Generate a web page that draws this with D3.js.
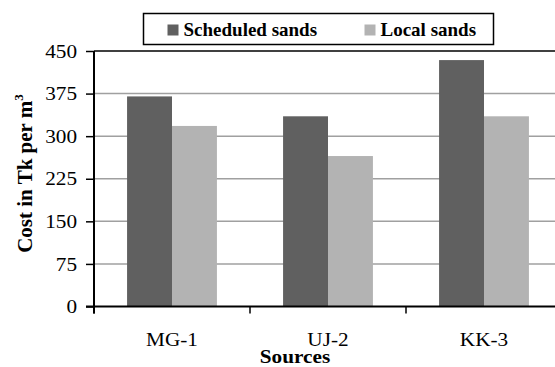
<!DOCTYPE html>
<html>
<head>
<meta charset="utf-8">
<script src="https://cdn.jsdelivr.net/npm/d3@7"></script>
<style>
  html, body { margin: 0; padding: 0; background: #fff; }
  svg { display: block; }
  svg text { font-family: "Liberation Serif", "Times New Roman", serif !important; }
</style>
</head>
<body>
<script>
// Sand cost by source
const categories = ["MG-1", "UJ-2", "KK-3"];
const seriesNames = ["Scheduled sands", "Local sands"];
const scheduledSands = [370, 335, 434];
const localSands = [318, 265, 335];
const yTicks = [0, 75, 150, 225, 300, 375, 450];
const seriesColors = ["#606060", "#b3b3b3"];

const W = 555, H = 367;
const margin = { left: 94, top: 51, bottom: 60.5 };
const plotW = 468;           // three category slots; the last one runs past the right edge
const plotH = H - margin.top - margin.bottom;
const SX = 1.18;             // horizontal widening of the serif labels

const svg = d3.select("body").append("svg").attr("width", W).attr("height", H);

const x = d3.scaleBand().domain(categories).range([0, plotW]).paddingInner(0).paddingOuter(0);
// each pair of bars fills the middle ~58% of its slot
const x1 = d3.scaleBand().domain(seriesNames)
  .range([x.bandwidth() * 0.212, x.bandwidth() * 0.788]).paddingInner(0).paddingOuter(0);
const y = d3.scaleLinear().domain([0, 450]).range([plotH, 0]);

const g = svg.append("g").attr("transform", `translate(${margin.left},${margin.top})`);

// gridlines
g.append("g").selectAll("line").data(yTicks.filter(d => d > 0 && d < 450)).join("line")
  .attr("x1", 0).attr("x2", plotW)
  .attr("y1", d => y(d)).attr("y2", d => y(d))
  .attr("stroke", "#a0a0a0").attr("stroke-width", 1.5);

// top border of the plot area
g.append("line").attr("x1", 0).attr("x2", plotW).attr("y1", y(450)).attr("y2", y(450))
  .attr("stroke", "#000").attr("stroke-width", 1.5);

// bars
const rows = categories.map((c, i) => ({ cat: c, vals: [scheduledSands[i], localSands[i]] }));
g.append("g").selectAll("g").data(rows).join("g")
  .attr("transform", d => `translate(${x(d.cat)},0)`)
  .selectAll("rect").data(d => d.vals.map((v, j) => ({ name: seriesNames[j], v, j })))
  .join("rect")
  .attr("x", d => x1(d.name))
  .attr("width", x1.bandwidth())
  .attr("y", d => y(d.v))
  .attr("height", d => plotH - y(d.v))
  .attr("fill", d => seriesColors[d.j]);

// y axis
const yAxis = g.append("g").call(d3.axisLeft(y).tickValues(yTicks).tickSize(8));
yAxis.select(".domain").attr("stroke", "#000").attr("stroke-width", 2).attr("d", `M0,${plotH + 7}V0`);
yAxis.selectAll(".tick line").attr("stroke", "#000").attr("stroke-width", 1.5);
yAxis.selectAll(".tick text")
  .attr("font-size", 18).attr("fill", "#000")
  .attr("x", -17 / SX).attr("dy", "0.34em")
  .attr("transform", `scale(${SX},1)`);

// x axis
const xAxis = g.append("g").attr("transform", `translate(0,${plotH})`)
  .call(d3.axisBottom(x).tickSize(0));
xAxis.select(".domain").attr("stroke", "#000").attr("stroke-width", 2).attr("d", `M-8,0H${plotW}`);
xAxis.selectAll(".tick text")
  .attr("font-size", 18).attr("fill", "#000")
  .attr("y", 39.5).attr("dy", null)
  .attr("transform", `scale(${SX},1)`);
// category boundary ticks
xAxis.append("g").selectAll("line").data(d3.range(categories.length + 1)).join("line")
  .attr("x1", i => i * x.step()).attr("x2", i => i * x.step())
  .attr("y1", 0).attr("y2", 7)
  .attr("stroke", "#000").attr("stroke-width", 1.5);

// axis titles
svg.append("text")
  .attr("transform", `translate(295,363) scale(${SX},1)`)
  .attr("text-anchor", "middle")
  .attr("font-size", 18).attr("font-weight", "bold").text("Sources");

const yt = svg.append("text")
  .attr("transform", `translate(32,173.5) rotate(-90)`)
  .attr("text-anchor", "middle").attr("font-size", 21).attr("font-weight", "bold");
yt.append("tspan").text("Cost in Tk per m");
yt.append("tspan").attr("font-size", 13).attr("dy", -9).text("3");

// legend
const lg = svg.append("g").attr("transform", "translate(143.5,13.5)");
lg.append("rect").attr("width", 350).attr("height", 31).attr("fill", "#fff")
  .attr("stroke", "#000").attr("stroke-width", 1.5);
const legendX = [24, 221];
seriesNames.forEach((n, i) => {
  lg.append("rect").attr("x", legendX[i]).attr("y", 11).attr("width", 11).attr("height", 11)
    .attr("fill", seriesColors[i]);
  lg.append("text").attr("x", legendX[i] + 16).attr("y", 22.5)
    .attr("font-size", 19).attr("font-weight", "bold").text(n);
});
</script>
</body>
</html>
